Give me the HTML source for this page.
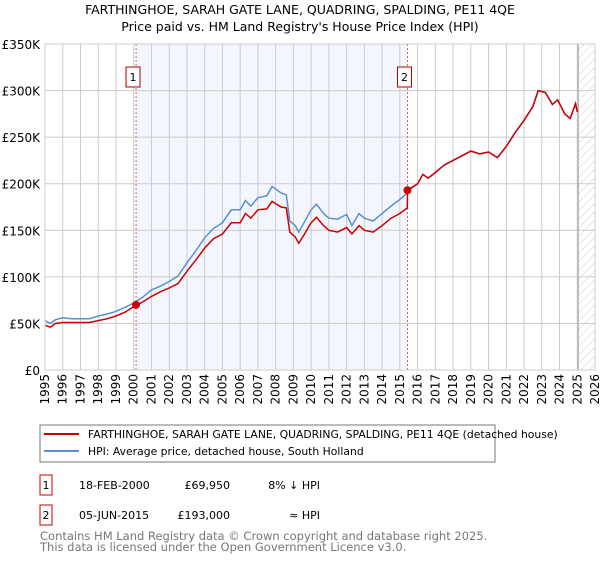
<!DOCTYPE html>
<html><head><meta charset="utf-8"><style>
body{margin:0;background:#fff;}
svg text{font-family:"DejaVu Sans","Liberation Sans",sans-serif;}
</style></head><body>
<svg id="chart" width="600" height="560" xmlns="http://www.w3.org/2000/svg">
<defs><pattern id="hatch" width="6" height="6" patternUnits="userSpaceOnUse" patternTransform="rotate(45)"><line x1="0" y1="0" x2="0" y2="6" stroke="#ccc" stroke-width="1"/></pattern></defs>
<text x="300" y="14" text-anchor="middle" font-size="12.5">FARTHINGHOE, SARAH GATE LANE, QUADRING, SPALDING, PE11 4QE</text>
<text x="300" y="31" text-anchor="middle" font-size="12.5">Price paid vs. HM Land Registry's House Price Index (HPI)</text>
<g id="plot"></g>
<g>
<rect x="40" y="425" width="455" height="37" fill="#fff" stroke="#777" stroke-width="1"/>
<line x1="44" y1="434" x2="79" y2="434" stroke="#cc0000" stroke-width="2"/>
<text x="88" y="438" font-size="10.8">FARTHINGHOE, SARAH GATE LANE, QUADRING, SPALDING, PE11 4QE (detached house)</text>
<line x1="44" y1="451" x2="79" y2="451" stroke="#5b8fd0" stroke-width="2"/>
<text x="88" y="455" font-size="10.8">HPI: Average price, detached house, South Holland</text>
</g>
<g>
<rect x="40" y="475" width="12" height="20" fill="#fff" stroke="#cc0000"/>
<text x="46" y="489" font-size="11" text-anchor="middle">1</text>
<text x="79" y="489" font-size="11">18-FEB-2000</text>
<text x="230" y="489" font-size="11" text-anchor="end">£69,950</text>
<text x="320" y="489" font-size="11" text-anchor="end">8% ↓ HPI</text>
</g>
<g>
<rect x="40" y="505" width="12" height="20" fill="#fff" stroke="#cc0000"/>
<text x="46" y="519" font-size="11" text-anchor="middle">2</text>
<text x="79" y="519" font-size="11">05-JUN-2015</text>
<text x="230" y="519" font-size="11" text-anchor="end">£193,000</text>
<text x="320" y="519" font-size="11" text-anchor="end">≈ HPI</text>
</g>
<text x="40" y="540" font-size="11.5" fill="#777">Contains HM Land Registry data © Crown copyright and database right 2025.</text>
<text x="40" y="551" font-size="11.5" fill="#777">This data is licensed under the Open Government Licence v3.0.</text>
</svg>
<script>
const dates=[1995,1995.3,1995.6,1996,1996.5,1997,1997.5,1998,1998.5,1999,1999.5,2000,2000.5,2001,2001.5,2002,2002.5,2003,2003.5,2004,2004.5,2005,2005.5,2006,2006.3,2006.6,2007,2007.5,2007.8,2008.3,2008.6,2008.8,2009.1,2009.3,2009.6,2010,2010.3,2010.7,2011,2011.5,2012,2012.3,2012.7,2013,2013.5,2014,2014.5,2015,2015.42,2015.44,2016,2016.3,2016.6,2017,2017.5,2018,2018.5,2019,2019.5,2020,2020.5,2021,2021.5,2022,2022.5,2022.8,2023.2,2023.6,2023.9,2024.3,2024.6,2024.9,2025.0];
const hpiValues=[53,50,54,56,55,55,55,58,60,63,67,72,78,86,90,95,101,115,128,142,152,158,172,172,182,176,185,187,197,190,188,160,155,148,158,172,178,168,163,162,167,155,168,163,160,168,176,183,190,192,200,210,206,212,220,225,230,235,232,234,228,240,255,268,283,300,298,285,290,275,270,286,277];
const priceValues=[48,46,50,51,51,51,51,53,55,58,62,68,73,79,84,88,93,106,118,131,141,146,158,158,168,163,172,173,181,175,174,148,143,136,145,158,164,155,150,148,153,146,155,150,148,155,163,168,174,193,200,210,206,212,220,225,230,235,232,234,228,240,255,268,283,300,298,285,290,275,270,286,277];
const saleDates=[2000.13,2015.43];
const saleValues=[69.95,193];
const saleLabels=["1","2"];
const yTicks=[0,50,100,150,200,250,300,350];
const yTickLabels=["£0","£50K","£100K","£150K","£200K","£250K","£300K","£350K"];
const xYears=[1995,1996,1997,1998,1999,2000,2001,2002,2003,2004,2005,2006,2007,2008,2009,2010,2011,2012,2013,2014,2015,2016,2017,2018,2019,2020,2021,2022,2023,2024,2025,2026];

const L=45,R=595,T=44,B=370,X0=1995,X1=2026,YMAX=350;
const xs=v=>L+(v-X0)/(X1-X0)*(R-L);
const ys=v=>B-v/YMAX*(B-T);
const NS="http://www.w3.org/2000/svg";
const g=document.getElementById('plot');
function mk(tag,attrs,parent){const e=document.createElementNS(NS,tag);for(const k in attrs)e.setAttribute(k,attrs[k]);(parent||g).appendChild(e);return e;}

let e;
e=mk('rect',{x:xs(saleDates[0]),y:T,width:xs(saleDates[1])-xs(saleDates[0]),height:B-T,fill:'#eef3fc',opacity:0.7});


e=mk('rect',{x:xs(2025.05),y:T,width:R-xs(2025.05),height:B-T,fill:'url(#hatch)'});


yTicks.forEach((t,i)=>{
 e=mk('line',{x1:L,x2:R,y1:ys(t),y2:ys(t),stroke:'#ccc','stroke-width':1});
 
 
 e=mk('text',{x:40,y:ys(t)+5,'text-anchor':'end','font-size':12});
 e.textContent=yTickLabels[i];
 
 
});
xYears.forEach(yv=>{
 e=mk('line',{x1:xs(yv),x2:xs(yv),y1:T,y2:B,stroke:'#ccc','stroke-width':1});
 
 
 e=mk('text',{x:0,y:0,'text-anchor':'end','font-size':12,transform:`translate(${xs(yv)+4},374) rotate(-90)`});
 e.textContent=yv;
 
 
});
e=mk('line',{x1:xs(2025.05),x2:xs(2025.05),y1:T,y2:B,stroke:'#999','stroke-width':1});


saleDates.forEach((d,i)=>{
 e=mk('line',{x1:xs(d),x2:xs(d),y1:T,y2:B,stroke:'#e06060','stroke-width':1,'stroke-dasharray':'2,2'});
 
 
});
const path=(vals)=>dates.map((d,i)=>(i?'L':'M')+xs(d).toFixed(1)+','+ys(vals[i]).toFixed(1)).join(' ');
e=mk('path',{d:path(hpiValues),fill:'none',stroke:'#5b8fd0','stroke-width':1.5});


e=mk('path',{d:path(priceValues),fill:'none',stroke:'#cc0000','stroke-width':1.5});


saleDates.forEach((d,i)=>{
 e=mk('circle',{cx:xs(d),cy:ys(saleValues[i]),r:4,fill:'#cc0000'});
 
 
 e=mk('rect',{x:xs(d)-10,y:67,width:14,height:20,fill:'#fff',stroke:'#aa0000'});
 
 
 e=mk('text',{x:xs(d)-3,y:81,'text-anchor':'middle','font-size':11});
 e.textContent=saleLabels[i];
 
 
});
e=mk('rect',{x:L,y:T,width:R-L,height:B-T,fill:'none',stroke:'#ccc'});


</script>
</body></html>
